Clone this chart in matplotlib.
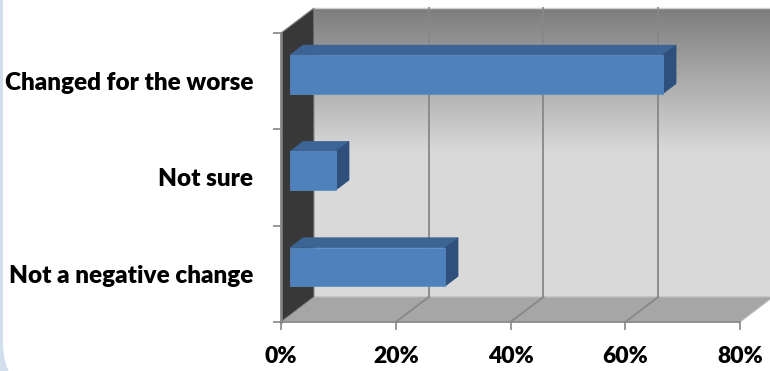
import numpy as np
import matplotlib
matplotlib.use('Agg')
import matplotlib.pyplot as plt
from matplotlib.patches import Polygon, FancyBboxPatch
from matplotlib.transforms import IdentityTransform
from matplotlib.colors import LinearSegmentedColormap
from matplotlib.ticker import FixedLocator, FuncFormatter

# survey answers, bottom to top
categories = ['Not a negative change', 'Not sure', 'Changed for the worse']
values = [27, 8, 65]
x_ticks = [0, 20, 40, 60, 80]
x_max = 80

# 3d box depth in data units, bars sit in the middle of the depth
DX, DY = 5.75, 0.26
BAR_D0, BAR_D1 = 0.27, 0.67
BAR_H = 0.40


def shift(x, y, d):
    return (x + d * DX, y + d * DY)


plt.rcParams['font.family'] = ['Lato', 'DejaVu Sans']
plt.rcParams['font.weight'] = 'bold'

W, H = 770, 371
fig = plt.figure(figsize=(W / 100, H / 100), dpi=100)
fig.patch.set_facecolor('#d3deed')
fig.add_artist(FancyBboxPatch((3, -22), 900, 500,
                              boxstyle='round,pad=0,rounding_size=50',
                              transform=IdentityTransform(),
                              fc='white', ec='none', zorder=-10))

ax = fig.add_axes([0, 0, 1, 1])
ax.patch.set_visible(False)

ncat = len(categories)

# back wall with a grey gradient
wall = Polygon([shift(0, 0, 1), shift(x_max, 0, 1), shift(x_max, ncat, 1), shift(0, ncat, 1)],
               closed=True, fc='none', ec='none')
ax.add_patch(wall)
cmap = LinearSegmentedColormap.from_list('wall', [(0, '#d9d9d9'), (0.5, '#d9d9d9'), (1, '#7d7d7d')])
grad = np.linspace(0, 1, 256).reshape(-1, 1)
im = ax.imshow(grad, extent=(DX, x_max + DX, DY, ncat + DY), origin='lower',
               cmap=cmap, aspect='auto', zorder=1)
im.set_clip_path(wall)
ax.plot([DX, x_max + DX], [ncat + DY, ncat + DY], color='#d0d0d0', lw=1, zorder=2)

# floor
ax.add_patch(Polygon([shift(0, 0, 0), shift(x_max, 0, 0), shift(x_max, 0, 1), shift(0, 0, 1)],
                     closed=True, fc='#a6a6a6', ec='#bdbdbd', lw=0.8, zorder=2))
# left wall
ax.add_patch(Polygon([shift(0, 0, 0), shift(0, 0, 1), shift(0, ncat, 1), shift(0, ncat, 0)],
                     closed=True, fc='#383838', ec='#8a8a8a', lw=0.8, zorder=2))

# gridlines on wall and floor
for t in x_ticks[1:-1]:
    ax.plot([t + DX, t + DX], [DY, ncat + DY], color='#878787', lw=1.3, zorder=3)
    ax.plot([t, t + DX], [0, DY], color='#878787', lw=1.3, zorder=3)

# 3d bars
for i, v in enumerate(values):
    y0 = i + 0.5 - BAR_H / 2
    y1 = y0 + BAR_H
    top = [shift(0, y1, BAR_D0), shift(v, y1, BAR_D0), shift(v, y1, BAR_D1), shift(0, y1, BAR_D1)]
    side = [shift(v, y0, BAR_D0), shift(v, y0, BAR_D1), shift(v, y1, BAR_D1), shift(v, y1, BAR_D0)]
    front = [shift(0, y0, BAR_D0), shift(v, y0, BAR_D0), shift(v, y1, BAR_D0), shift(0, y1, BAR_D0)]
    ax.add_patch(Polygon(top, closed=True, fc='#3c6494', ec='#3c6494', lw=0.5, zorder=4))
    ax.add_patch(Polygon(side, closed=True, fc='#2f507c', ec='#2f507c', lw=0.5, zorder=4))
    ax.add_patch(Polygon(front, closed=True, fc='#4f81bd', ec='#5a8ac4', lw=0.5, zorder=5))

# front plane in pixels
left_px, right_px, top_px, bottom_px = 281, 740, 33, 322
sx = (right_px - left_px) / x_max
sy = (bottom_px - top_px) / ncat
ax.set_xlim(-left_px / sx, (W - left_px) / sx)
ax.set_ylim(-(H - bottom_px) / sy, ncat + top_px / sy)

for s in ['top', 'right']:
    ax.spines[s].set_visible(False)
ax.spines['left'].set_position(('data', 0))
ax.spines['bottom'].set_position(('data', 0))
ax.spines['left'].set_bounds(0, ncat)
ax.spines['bottom'].set_bounds(0, x_max)
ax.spines['left'].set_color('#868686')
ax.spines['bottom'].set_color('#868686')
ax.spines['left'].set_linewidth(1.8)
ax.spines['bottom'].set_linewidth(1.2)
ax.spines['left'].set_zorder(6)
ax.spines['bottom'].set_zorder(6)

ax.xaxis.set_major_locator(FixedLocator(x_ticks))
ax.xaxis.set_major_formatter(FuncFormatter(lambda v, p: f'{v:.0f}%'))
ax.tick_params(axis='x', direction='out', length=6, width=1.2, color='#868686',
               labelsize=16.5, pad=11)

ax.yaxis.set_major_locator(FixedLocator(range(ncat + 1)))
ax.yaxis.set_major_formatter(FuncFormatter(lambda v, p: ''))
ax.yaxis.set_minor_locator(FixedLocator([i + 0.5 for i in range(ncat)]))
ax.set_yticklabels(categories, minor=True)
ax.tick_params(axis='y', which='major', direction='out', length=6, width=1.2, color='#868686')
ax.tick_params(axis='y', which='minor', length=0, labelsize=17.5, pad=20)

for lab in ax.get_xticklabels() + ax.get_yticklabels(minor=True):
    lab.set_fontweight('heavy')

fig.savefig('out.png', dpi=100)
